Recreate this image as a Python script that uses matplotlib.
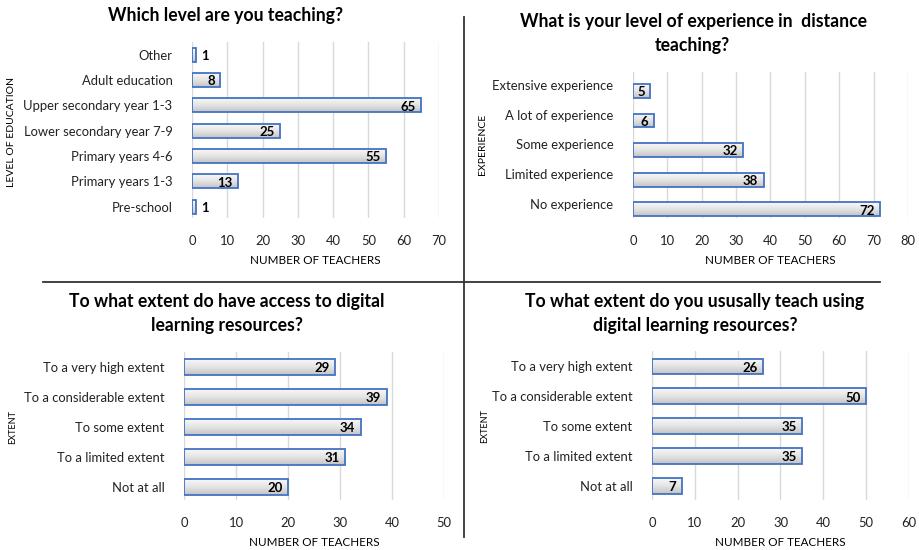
#Four survey panels, teachers and distance teaching
import numpy as np
from matplotlib import pyplot as plt
from matplotlib.colors import LinearSegmentedColormap
from matplotlib.lines import Line2D
from matplotlib.transforms import ScaledTranslation

plt.rcParams['font.family'] = ['Lato', 'DejaVu Sans']

#Panel 1 - level of teaching (bottom to top)
levels = ["Pre-school", "Primary years 1-3", "Primary years 4-6",
          "Lower secondary year 7-9", "Upper secondary year 1-3",
          "Adult education", "Other"]
levelCounts = [1, 13, 55, 25, 65, 8, 1]

#Panel 2 - experience in distance teaching
experience = ["No experience", "Limited experience", "Some experience",
              "A lot of experience", "Extensive experience"]
experienceCounts = [72, 38, 32, 6, 5]

#Panel 3 and 4 - extent
extents = ["Not at all", "To a limited extent", "To some extent",
           "To a considerable extent", "To a very high extent"]
accessCounts = [20, 31, 34, 39, 29]
usageCounts = [7, 35, 35, 50, 26]

W, H = 920, 550
fig = plt.figure(figsize=(W/100, H/100), dpi=100)

edge = '#4472C4'
grayFade = LinearSegmentedColormap.from_list('fade', ['#f8f8f8', '#e4e4e4', '#c4c4c4'])

def px_axes(x0, x1, y0, y1):
    #pixel box (top-left origin) to figure axes
    return fig.add_axes([x0/W, 1 - y1/H, (x1 - x0)/W, (y1 - y0)/H])

def draw_panel(ax, cats, vals, xmax, ylim, height, labelShift=0):
    bars = ax.barh(range(len(cats)), vals, height=height, facecolor='none',
                   edgecolor=edge, linewidth=1.3, zorder=3)
    grad = np.linspace(0, 1, 30).reshape(-1, 1)
    for b in bars:
        x, y, w, h = b.get_x(), b.get_y(), b.get_width(), b.get_height()
        im = ax.imshow(grad, extent=[x, x + w, y, y + h], aspect='auto',
                       cmap=grayFade, origin='upper', zorder=2)
        im.set_clip_path(b)
    ax.set_xlim(0, xmax)
    ax.set_ylim(*ylim)
    ax.set_xticks(np.arange(0, xmax + 1, 10))
    ax.set_yticks(range(len(cats)))
    ax.set_yticklabels(cats)
    ax.grid(axis='x', color='#d9d9d9', linewidth=1)
    ax.set_axisbelow(True)
    for s in ax.spines.values():
        s.set_visible(False)
    ax.tick_params(axis='both', length=0, labelsize=9.4, colors='#222222')
    ax.tick_params(axis='x', pad=12)
    ax.tick_params(axis='y', pad=14)
    if labelShift:
        off = ScaledTranslation(0, labelShift/72, fig.dpi_scale_trans)
        for lab in ax.get_yticklabels():
            lab.set_transform(lab.get_transform() + off)
    #values at the end of each bar
    pxPerUnit = ax.bbox.width / xmax
    for i, v in enumerate(vals):
        if v * pxPerUnit > 12:
            ax.annotate(str(v), (v, i), xytext=(-4, -1), textcoords='offset points',
                        ha='right', va='center', fontsize=9.5, fontweight='bold', zorder=4)
        else:
            ax.annotate(str(v), (v, i), xytext=(4, -1), textcoords='offset points',
                        ha='left', va='center', fontsize=9.5, fontweight='bold', zorder=4)
    ax.set_xlabel('NUMBER OF TEACHERS', fontsize=8.4, labelpad=6)

ax1 = px_axes(192, 439, 42, 218)
draw_panel(ax1, levels, levelCounts, 70, (-0.45, 6.5), 0.55)

ax2 = px_axes(633, 908, 72, 218)
draw_panel(ax2, experience, experienceCounts, 80, (-0.3, 4.64), 0.47, labelShift=4)

ax3 = px_axes(184, 444, 352, 500)
draw_panel(ax3, extents, accessCounts, 50, (-0.43, 4.5), 0.53)

ax4 = px_axes(652, 909, 351, 500)
draw_panel(ax4, extents, usageCounts, 60, (-0.48, 4.52), 0.53)

#titles
def ftext(x, y, s, **kw):
    fig.text(x/W, 1 - y/H, s, ha='center', va='center', **kw)

tsize = 12.7
ftext(226, 15, 'Which level are you teaching?', fontsize=tsize, fontweight='bold')
ftext(693, 22, 'What is your level of experience in  distance', fontsize=tsize, fontweight='bold')
ftext(692, 45, 'teaching?', fontsize=tsize, fontweight='bold')
ftext(227, 302, 'To what extent do have access to digital', fontsize=tsize, fontweight='bold')
ftext(227, 325, 'learning resources?', fontsize=tsize, fontweight='bold')
ftext(695, 302, 'To what extent do you ususally teach using', fontsize=tsize, fontweight='bold')
ftext(695, 325, 'digital learning resources?', fontsize=tsize, fontweight='bold')

#axis titles on the left side
ftext(12, 132, 'LEVEL OF EDUCATION', fontsize=7.5, rotation=90)
ftext(483, 144, 'EXPERIENCE', fontsize=7.5, rotation=90)
ftext(13, 427, 'EXTENT', fontsize=6.5, rotation=90)
ftext(485, 426, 'EXTENT', fontsize=6.5, rotation=90)

#divider lines between the panels
fig.add_artist(Line2D([464/W, 464/W], [1 - 17/H, 1 - 537/H], color='#333333', linewidth=1.3))
fig.add_artist(Line2D([43/W, 880/W], [1 - 282/H, 1 - 282/H], color='#333333', linewidth=1.3))

fig.savefig('out.png', dpi=100, facecolor='white')
